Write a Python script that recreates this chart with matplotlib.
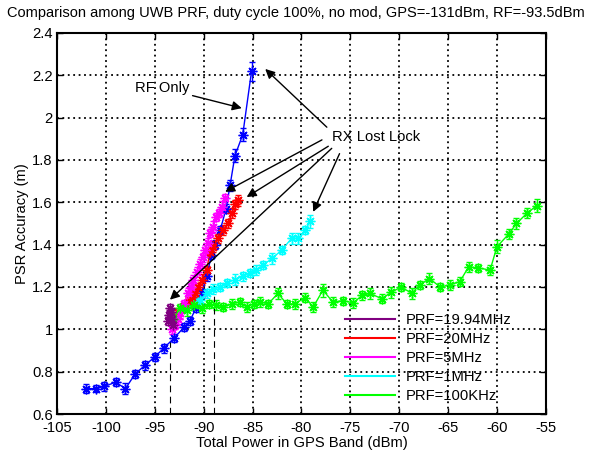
import matplotlib
matplotlib.use('Agg')
import matplotlib.pyplot as plt

plt.rcParams['font.family'] = ['Liberation Sans', 'DejaVu Sans']
plt.rcParams['font.size'] = 10.6
plt.rcParams['axes.unicode_minus'] = False

# RF only (blue)
rf_x = [-102.0, -101.0, -100.2, -99.0, -98.0, -97.0, -96.0, -95.0, -94.1, -93.0, -92.0,
        -91.4, -90.8, -90.2, -89.7, -89.2, -88.8, -88.3, -87.7, -87.3, -86.8, -86.0, -85.1]
rf_y = [0.72, 0.72, 0.73, 0.75, 0.72, 0.79, 0.83, 0.87, 0.91, 0.96, 1.01,
        1.04, 1.10, 1.17, 1.25, 1.35, 1.40, 1.47, 1.57, 1.68, 1.82, 1.92, 2.22]
rf_err = [0.02, 0.015, 0.02, 0.02, 0.025, 0.02, 0.02, 0.02, 0.02, 0.02, 0.02,
          0.02, 0.02, 0.02, 0.02, 0.02, 0.02, 0.02, 0.02, 0.025, 0.03, 0.03, 0.045]

prf1994_x = [-93.6, -93.5, -93.4, -93.45, -93.3, -93.2, -93.1]
prf1994_y = [1.04, 1.07, 1.10, 1.06, 1.08, 1.05, 1.02]
prf1994_err = [0.02, 0.02, 0.02, 0.02, 0.02, 0.02, 0.02]

prf20_x = [-92.6, -92.1, -91.6, -91.2, -90.9, -90.55, -90.2, -89.7, -89.35, -89.0,
           -88.5, -88.0, -87.5, -87.1, -86.8, -86.5]
prf20_y = [1.08, 1.105, 1.13, 1.155, 1.17, 1.20, 1.235, 1.28, 1.365, 1.39,
           1.43, 1.47, 1.50, 1.55, 1.59, 1.61]
prf20_err = [0.02, 0.02, 0.025, 0.02, 0.02, 0.02, 0.025, 0.02, 0.02, 0.025,
             0.02, 0.025, 0.02, 0.025, 0.02, 0.025]

prf5_x = [-93.2, -92.9, -92.6, -92.4, -92.0, -91.6, -91.3, -91.06, -90.7, -90.4,
          -90.1, -89.9, -89.6, -89.35, -89.0, -88.7, -88.4, -88.15, -87.8]
prf5_y = [1.00, 1.02, 1.05, 1.075, 1.12, 1.17, 1.20, 1.235, 1.27, 1.31,
          1.34, 1.375, 1.41, 1.455, 1.485, 1.53, 1.55, 1.58, 1.62]
prf5_err = [0.02, 0.02, 0.025, 0.02, 0.02, 0.025, 0.02, 0.02, 0.025, 0.02,
            0.02, 0.025, 0.02, 0.02, 0.025, 0.02, 0.02, 0.025, 0.02]

prf1_x = [-92.0, -91.5, -91.0, -90.4, -89.7, -89.0, -88.3, -87.6, -86.8, -86.0,
          -85.3, -84.6, -83.9, -83.0, -82.0, -81.0, -80.3, -79.6, -79.1]
prf1_y = [1.10, 1.12, 1.145, 1.14, 1.17, 1.19, 1.20, 1.22, 1.235, 1.25,
          1.265, 1.28, 1.305, 1.335, 1.375, 1.43, 1.43, 1.47, 1.51]
prf1_err = [0.02, 0.02, 0.025, 0.02, 0.02, 0.025, 0.02, 0.02, 0.025, 0.02,
            0.02, 0.025, 0.02, 0.025, 0.02, 0.025, 0.025, 0.02, 0.03]

prf100k_x = [-93.1, -92.4, -91.7, -91.0, -90.2, -89.5, -88.7, -88.0, -87.1, -86.3,
             -85.6, -84.9, -84.2, -83.4, -82.4, -81.5, -80.7, -79.6, -78.8, -77.8,
             -76.8, -75.7, -74.7, -73.8, -73.0, -71.8, -70.8, -69.8, -68.7, -67.9,
             -66.9, -65.8, -64.8, -63.8, -62.9, -61.9, -60.7, -60.0, -58.8, -58.0,
             -56.9, -55.9]
prf100k_y = [1.05, 1.10, 1.09, 1.115, 1.10, 1.12, 1.115, 1.105, 1.12, 1.13,
             1.105, 1.12, 1.13, 1.12, 1.17, 1.12, 1.12, 1.15, 1.105, 1.185,
             1.13, 1.135, 1.125, 1.16, 1.17, 1.145, 1.175, 1.20, 1.17, 1.21,
             1.24, 1.20, 1.21, 1.225, 1.295, 1.29, 1.28, 1.39, 1.45, 1.50,
             1.55, 1.585]
prf100k_err = [0.025, 0.02, 0.025, 0.02, 0.025, 0.02, 0.025, 0.02, 0.025, 0.02,
               0.025, 0.02, 0.025, 0.02, 0.025, 0.02, 0.025, 0.02, 0.025, 0.03,
               0.025, 0.02, 0.025, 0.02, 0.025, 0.02, 0.025, 0.02, 0.025, 0.02,
               0.025, 0.02, 0.025, 0.02, 0.025, 0.02, 0.025, 0.03, 0.025, 0.025,
               0.025, 0.03]

legend_labels = ['PRF=19.94MHz', 'PRF=20MHz', 'PRF=5MHz', 'PRF=1MHz', 'PRF=100KHz']

# dashed reference lines (x position, top y)
ref_x = [-93.45, -88.9]
ref_top = [0.95, 1.42]

title = 'Comparison among UWB PRF, duty cycle 100%, no mod, GPS=-131dBm, RF=-93.5dBm'

fig = plt.figure(figsize=(5.92, 4.55), dpi=100)
ax = fig.add_axes([0.0963, 0.0901, 0.8257, 0.8374])

star = (8, 2, 0)


def draw(x, y, err, color):
    ax.errorbar(x, y, yerr=err, color=color, marker=star, markersize=7,
                linewidth=1.0, elinewidth=1.0, capsize=2.5, capthick=1.0)


draw(rf_x, rf_y, rf_err, (0, 0, 1))
draw(prf1_x, prf1_y, prf1_err, (0, 1, 1))
draw(prf20_x, prf20_y, prf20_err, (1, 0, 0))
draw(prf5_x, prf5_y, prf5_err, (1, 0, 1))
draw(prf100k_x, prf100k_y, prf100k_err, (0, 1, 0))
draw(prf1994_x, prf1994_y, prf1994_err, (0.5, 0, 0.5))

for c, lab in zip([(0.5, 0, 0.5), (1, 0, 0), (1, 0, 1), (0, 1, 1), (0, 1, 0)], legend_labels):
    ax.plot([], [], color=c, lw=1.5, label=lab)

for xv, top in zip(ref_x, ref_top):
    ax.plot([xv, xv], [0.6, top], color='k', ls=(0, (6, 4)), lw=0.8)

arrow = dict(arrowstyle='-|>', color='k', lw=1.0, mutation_scale=14, shrinkA=0, shrinkB=0)
ax.annotate('RF Only', xy=(-86.1, 2.045), xytext=(-94.2, 2.14),
            ha='center', va='center', arrowprops=arrow)
ax.text(-76.9, 1.91, 'RX Lost Lock', ha='left', va='center')
for start, tip in [((-77.4, 1.955), (-83.7, 2.23)),
                   ((-77.9, 1.895), (-87.8, 1.65)),
                   ((-77.25, 1.865), (-85.6, 1.625)),
                   ((-76.9, 1.855), (-93.45, 1.14)),
                   ((-76.1, 1.83), (-78.8, 1.555))]:
    ax.annotate('', xy=tip, xytext=start, arrowprops=arrow)

ax.set_xlim(-105, -55)
ax.set_ylim(0.6, 2.4)
ax.set_xticks(range(-105, -54, 5))
ax.set_yticks([0.6, 0.8, 1.0, 1.2, 1.4, 1.6, 1.8, 2.0, 2.2, 2.4])
ax.set_yticklabels(['0.6', '0.8', '1', '1.2', '1.4', '1.6', '1.8', '2', '2.2', '2.4'])
ax.grid(True, color='k', linestyle=(0, (1, 2)), linewidth=1.3)
ax.tick_params(direction='in', top=True, right=True, length=4, width=1)
ax.tick_params(axis='x', pad=5)
ax.tick_params(axis='y', pad=3)
for s in ax.spines.values():
    s.set_linewidth(1.5)

ax.set_xlabel('Total Power in GPS Band (dBm)', labelpad=1)
ax.set_ylabel('PSR Accuracy (m)', labelpad=2)
fig.text(0.5, 0.955, title, fontsize=10.5, ha='center', va='bottom')

ax.legend(loc='upper left', bbox_to_anchor=(0.59, 0.266), frameon=False,
          handlelength=3.4, handletextpad=0.7, labelspacing=0.35, borderpad=0,
          borderaxespad=0)

fig.savefig('out.png', dpi=100)
